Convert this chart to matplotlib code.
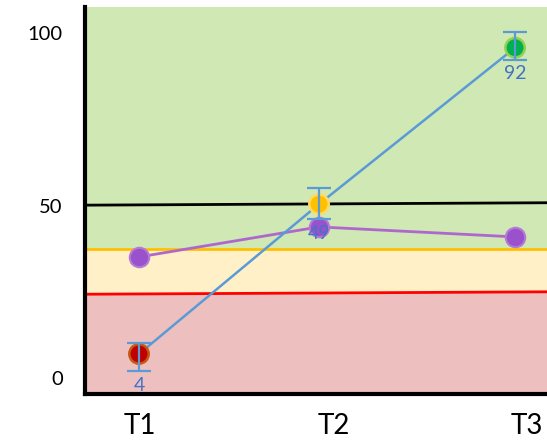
import matplotlib
matplotlib.use("Agg")
import matplotlib.pyplot as plt

# categories and time positions
categories = ["T1", "T2", "T3"]
tick_pos = [1, 2, 3]
x_points = [0.995, 1.925, 2.938]

# main series (blue line with error bars)
main_values = [7.0, 50.4, 95.7]
err_low = [5.0, 4.3, 3.5]
err_high = [3.1, 4.7, 4.6]
main_labels = ["4", "49", "92"]
point_fill = ["#C00000", "#FFC000", "#00B050"]
point_edge = ["#C55A11", "#FFD966", "#92D050"]

# second series (purple)
purple_values = [35.1, 43.8, 40.9]

# threshold lines (left end, right end)
x_span = [0.716, 3.103]
black_line = [50.1, 50.8]
yellow_line = [37.4, 37.4]
red_line = [24.3, 25.0]

y_ticks = [0, 50, 100]

fig = plt.figure(figsize=(5.47, 4.42), dpi=100)
ax = fig.add_axes([85 / 547, 48 / 442, 1 - 85 / 547, (442 - 48 - 7) / 442])
ax.set_xlim(x_span)
ax.set_ylim(-4.6, 107.5)

# background bands
ax.fill_between(x_span, yellow_line, 107.5, color="#CFE8B4", lw=0, zorder=0)
ax.fill_between(x_span, red_line, yellow_line, color="#FFF0C8", lw=0, zorder=0)
ax.fill_between(x_span, -4.6, red_line, color="#EEBFBF", lw=0, zorder=0)

ax.plot(x_span, black_line, color="black", lw=2, zorder=1)
ax.plot(x_span, yellow_line, color="#FFC000", lw=2, zorder=1)
ax.plot(x_span, red_line, color="#FF0000", lw=2, zorder=1)

# purple series
ax.plot(x_points, purple_values, color="#AE68CC", lw=2, zorder=2)
ax.scatter(x_points, purple_values, s=14 ** 2, color="#9A52CC",
           edgecolors="#B47AD6", linewidths=1.5, zorder=3)

# main series
ax.plot(x_points, main_values, color="#5B9BD5", lw=1.8, zorder=4)
ax.scatter(x_points, main_values, s=14 ** 2, c=point_fill,
           edgecolors=point_edge, linewidths=1.8, zorder=5)
ax.errorbar(x_points, main_values, yerr=[err_low, err_high], fmt="none",
            ecolor="#5B9BD5", elinewidth=1.6, capsize=8.5, capthick=1.6, zorder=6)

for x, y, lo, lab in zip(x_points, main_values, err_low, main_labels):
    ax.annotate(lab, (x, y - lo), xytext=(0, -4), textcoords="offset points",
                ha="center", va="top", color="#4472C4", fontsize=14,
                family="Lato", zorder=7)

# axes styling
for side in ["top", "right"]:
    ax.spines[side].set_visible(False)
for side in ["left", "bottom"]:
    ax.spines[side].set_linewidth(3)
    ax.spines[side].set_color("black")

ax.set_yticks(y_ticks)
ax.set_yticklabels([str(t) for t in y_ticks], family="Lato", fontsize=14.5)
ax.set_xticks(tick_pos)
ax.set_xticklabels(categories, family="Lato", fontsize=20)
ax.tick_params(axis="y", length=0, pad=16)
ax.tick_params(axis="x", length=0, pad=14)

fig.savefig("out.png", dpi=100)
